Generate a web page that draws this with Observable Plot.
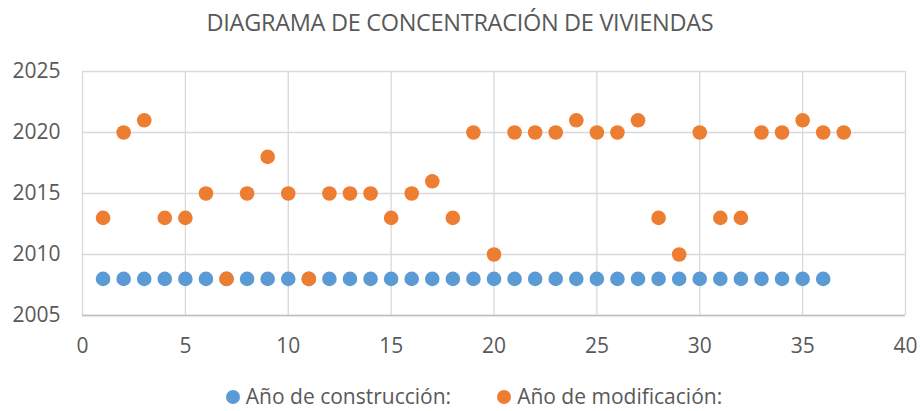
<!DOCTYPE html>
<html>
<head>
<meta charset="utf-8">
<script src="https://cdn.jsdelivr.net/npm/d3@7"></script>
<script src="https://cdn.jsdelivr.net/npm/@observablehq/plot@0.6"></script>
<style>
  html, body { margin: 0; padding: 0; background: #fff; font-family: "Open Sans", sans-serif; }
  body { position: relative; width: 920px; height: 411px; overflow: hidden; }
  #title { position: absolute; left: 0; top: 0; width: 920px; height: 46px; line-height: 44px; text-align: center; font-size: 23.5px; color: #595959; letter-spacing: -0.3px; }
  #chart { position: absolute; left: 0; top: 46px; }
  #chart svg { display: block; }
  #legend { position: absolute; left: 28px; right: 0; top: 382px; height: 29px; line-height: 29px; display: flex; justify-content: center; gap: 46px; font-size: 21px; color: #595959; }
  .item { display: flex; align-items: center; gap: 6px; }
  .sw { width: 14px; height: 14px; border-radius: 50%; display: inline-block; }
</style>
</head>
<body>
<div id="title">DIAGRAMA DE CONCENTRACIÓN DE VIVIENDAS</div>
<div id="chart"></div>
<div id="legend"></div>
<script>
const seriesNames = ["Año de construcción:", "Año de modificación:"];
const seriesColors = ["#5b9bd5", "#ed7d31"];
const constructionX = [1,2,3,4,5,6,7,8,9,10,11,12,13,14,15,16,17,18,19,20,21,22,23,24,25,26,27,28,29,30,31,32,33,34,35,36];
const constructionY = [2008,2008,2008,2008,2008,2008,2008,2008,2008,2008,2008,2008,2008,2008,2008,2008,2008,2008,2008,2008,2008,2008,2008,2008,2008,2008,2008,2008,2008,2008,2008,2008,2008,2008,2008,2008];
const modificationX = [1,2,3,4,5,6,7,8,9,10,11,12,13,14,15,16,17,18,19,20,21,22,23,24,25,26,27,28,29,30,31,32,33,34,35,36,37];
const modificationY = [2013,2020,2021,2013,2013,2015,2008,2015,2018,2015,2008,2015,2015,2015,2013,2015,2016,2013,2020,2010,2020,2020,2020,2021,2020,2020,2021,2013,2010,2020,2013,2013,2020,2020,2021,2020,2020];
const xTicks = [0,5,10,15,20,25,30,35,40];
const yTicks = [2005,2010,2015,2020,2025];

const construction = constructionX.map((x, i) => ({x, y: constructionY[i]}));
const modification = modificationX.map((x, i) => ({x, y: modificationY[i]}));

const chart = Plot.plot({
  width: 920,
  height: 320,
  marginTop: 25,
  marginLeft: 82,
  marginRight: 15,
  marginBottom: 51,
  style: { fontFamily: "Open Sans, sans-serif", fontSize: "21px", color: "#595959", background: "#fff" },
  x: { domain: [0, 40], ticks: xTicks, tickSize: 0, tickPadding: 23, label: null },
  y: { domain: [2005, 2025], ticks: yTicks, tickSize: 0, tickPadding: 22, label: null, tickFormat: d => String(d) },
  marks: [
    Plot.ruleX(xTicks, { stroke: "#d9d9d9", strokeWidth: 1.3 }),
    Plot.ruleY(yTicks, { stroke: "#d9d9d9", strokeWidth: 1.3 }),
    Plot.ruleY([2005], { stroke: "#bfbfbf", strokeWidth: 1.5 }),
    Plot.dot(construction, { x: "x", y: "y", r: 7.3, fill: seriesColors[0], stroke: null }),
    Plot.dot(modification, { x: "x", y: "y", r: 7.3, fill: seriesColors[1], stroke: null })
  ]
});
document.getElementById("chart").appendChild(chart);

const legend = document.getElementById("legend");
seriesNames.forEach((n, i) => {
  const it = document.createElement("div");
  it.className = "item";
  it.innerHTML = `<span class="sw" style="background:${seriesColors[i]}"></span><span>${n}</span>`;
  legend.appendChild(it);
});
</script>
</body>
</html>
